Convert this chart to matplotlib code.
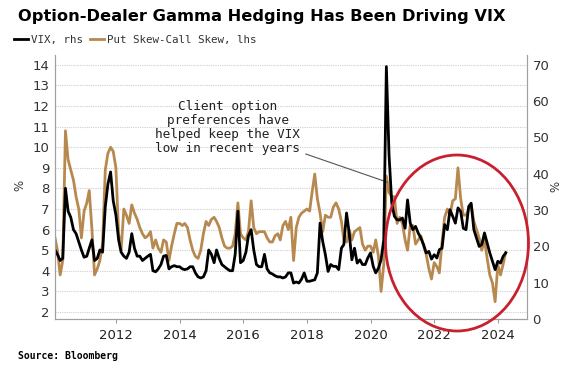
import matplotlib
matplotlib.use('Agg')
import matplotlib.pyplot as plt
import matplotlib.dates as mdates
from matplotlib.patches import Ellipse
import pandas as pd

# monthly readings, Feb 2010 .. Apr 2024
skew = [5.6, 5.0, 3.8, 4.5, 10.8, 9.4, 8.9, 8.4, 7.6, 7.0, 5.6,
        6.9, 7.3, 7.9, 6.0, 3.8, 4.1, 4.5, 5.3, 8.9, 9.7, 10.0, 9.8,
        9.0, 5.8, 5.0, 7.0, 6.7, 6.3, 7.2, 6.8, 6.5, 6.1, 5.8, 5.6,
        5.7, 5.9, 5.1, 5.5, 5.1, 4.9, 5.5, 5.4, 4.5, 5.2, 5.8, 6.3,
        6.3, 6.2, 6.3, 6.1, 5.5, 5.0, 4.7, 4.6, 5.0, 5.8, 6.4, 6.2,
        6.5, 6.6, 6.4, 6.1, 5.6, 5.2, 5.1, 5.1, 5.2, 5.8, 7.3, 5.8,
        5.6, 5.5, 5.9, 7.4, 6.1, 5.8, 5.9, 5.9, 5.9, 5.6, 5.4, 5.4,
        5.7, 5.8, 5.5, 6.2, 6.4, 6.0, 6.6, 4.5, 6.1, 6.6, 6.8, 6.9,
        7.0, 6.9, 7.8, 8.7, 7.5, 6.8, 5.9, 6.7, 6.6, 6.6, 7.1, 7.3,
        7.0, 6.4, 5.5, 5.4, 6.0, 5.5, 5.9, 6.0, 6.1, 5.3, 5.0, 5.2,
        5.2, 4.9, 5.5, 4.7, 3.0, 4.3, 8.6, 7.8, 7.6, 7.6, 6.3, 6.6,
        6.3, 5.5, 5.0, 6.2, 6.2, 5.3, 5.5, 5.7, 5.2, 4.8, 4.1, 3.6,
        4.4, 4.2, 3.9, 5.4, 6.6, 7.0, 6.7, 7.4, 7.5, 9.0, 7.5, 6.7,
        6.7, 7.0, 7.2, 6.4, 6.0, 5.6, 5.0, 5.5, 4.6, 3.8, 3.4, 2.5,
        4.3, 3.8, 4.3, 4.9]

vix = [19.0, 17.8, 16.1, 16.7, 36.0, 29.7, 28.0, 24.6, 23.5, 21.2, 19.0,
       17.0, 17.3, 19.5, 21.8, 16.1, 16.7, 19.0, 18.4, 30.9, 37.1, 40.5, 32.6,
       28.6, 21.8, 18.4, 17.3, 16.7, 18.4, 23.5, 19.5, 17.3, 17.3, 16.1, 16.7,
       17.3, 17.8, 13.3, 13.0, 13.8, 15.0, 17.3, 17.5, 13.8, 14.4, 14.7, 14.4,
       14.4, 13.8, 13.6, 13.8, 14.4, 14.4, 12.7, 11.6, 11.3, 11.6, 13.3, 19.0,
       17.8, 15.5, 19.0, 16.7, 15.0, 14.4, 13.8, 13.3, 13.3, 17.8, 29.7, 15.5,
       16.1, 18.4, 22.9, 24.6, 19.0, 15.0, 14.4, 14.4, 17.8, 13.8, 12.7, 12.4,
       11.9, 11.6, 11.6, 11.3, 11.6, 12.7, 12.7, 9.9, 10.2, 9.9, 11.0, 12.7,
       10.4, 10.4, 10.6, 10.8, 12.7, 26.4, 21.4, 17.7, 13.1, 15.0, 14.5, 14.5,
       13.6, 19.5, 20.5, 29.2, 23.7, 16.3, 19.5, 15.4, 16.3, 15.0, 15.0, 16.8,
       18.2, 14.5, 12.7, 14.0, 16.3, 21.8, 69.5, 45.0, 31.9, 28.3, 27.3, 27.3,
       27.8, 25.0, 32.8, 26.4, 24.6, 25.5, 23.7, 22.3, 20.5, 18.2, 18.6, 16.5,
       17.7, 16.8, 19.1, 19.5, 26.0, 24.6, 30.1, 28.3, 26.4, 30.6, 29.6, 25.0,
       24.6, 31.0, 31.9, 24.6, 22.3, 20.0, 20.5, 23.7, 20.9, 18.2, 15.9, 13.6,
       15.9, 15.4, 17.2, 18.2]

dates = pd.date_range('2010-02-01', periods=len(skew), freq='MS')
years = list(range(2012, 2025, 2))
left_ticks = list(range(2, 15))
right_ticks = list(range(0, 71, 10))

title = 'Option-Dealer Gamma Hedging Has Been Driving VIX'
note = 'Client option\npreferences have\nhelped keep the VIX\nlow in recent years'

tan = '#b8894f'
mono = 'DejaVu Sans Mono'

fig = plt.figure(figsize=(5.82, 3.80), dpi=100)
ax = fig.add_axes([55/582, 61/380, 472/582, 264/380])
ax2 = ax.twinx()

l1, = ax.plot(dates, skew, color=tan, lw=2.0, label='Put Skew-Call Skew, lhs')
l2, = ax2.plot(dates, vix, color='black', lw=2.0, label='VIX, rhs')

ax.set_xlim(pd.Timestamp('2010-02-01'), pd.Timestamp('2024-12-01'))
ax.set_ylim(1.66, 14.48)
ax2.set_ylim(0, 72.7)
ax.set_yticks(left_ticks)
ax2.set_yticks(right_ticks)
ax.set_xticks([pd.Timestamp(f'{y}-01-01') for y in years])
ax.xaxis.set_major_formatter(mdates.DateFormatter('%Y'))

ax.grid(axis='y', color='#cfcfcf', lw=0.8, ls=(0, (1, 1)))
ax.set_axisbelow(True)
for a in (ax, ax2):
    a.spines['top'].set_visible(False)
    for s in ('left', 'right', 'bottom'):
        a.spines[s].set_color('#a0a0a0')
        a.spines[s].set_linewidth(0.8)
ax.tick_params(axis='y', length=0, pad=4, labelsize=9.5, labelcolor='#333333')
ax2.tick_params(axis='y', length=0, pad=4, labelsize=9.5, labelcolor='#333333')
ax.tick_params(axis='x', length=3, color='#a0a0a0', pad=4, labelsize=9.5, labelcolor='#222222')

fig.text(20/582, 1-185/380, '%', rotation=90, ha='center', va='center', fontsize=8.5, color='#333333')
fig.text(556/582, 1-186/380, '%', rotation=90, ha='center', va='center', fontsize=8.5, color='#333333')

fig.text(18/582, 1-17/380, title, fontsize=11.7, fontweight='bold', ha='left', va='center')
fig.legend(handles=[l2, l1], loc='center left', bbox_to_anchor=(14/582, 1-40/380), ncol=2,
           frameon=False, handlelength=1.3, handletextpad=0.3, columnspacing=0.6,
           borderaxespad=0, borderpad=0, prop={'family': mono, 'size': 7.8})
for t in fig.legends[0].get_texts():
    t.set_color('#333333')

ax.annotate(note, xy=(pd.Timestamp('2020-07-15'), 8.3), xytext=(pd.Timestamp('2015-07-08'), 10.98),
            ha='center', va='center', fontsize=9.2, family=mono, color='#222222', linespacing=1.1,
            arrowprops=dict(arrowstyle='-', color='#555555', lw=0.8, shrinkA=2, shrinkB=0))

fig.add_artist(Ellipse((457/582, 1-243/380), 143/582, 176/380, transform=fig.transFigure,
                       fill=False, edgecolor='#c8202e', lw=2.0))

fig.text(18/582, 1-356/380, 'Source: Bloomberg', fontsize=7, fontweight='bold', family=mono, ha='left', va='center')

fig.savefig('out.png', dpi=100)
